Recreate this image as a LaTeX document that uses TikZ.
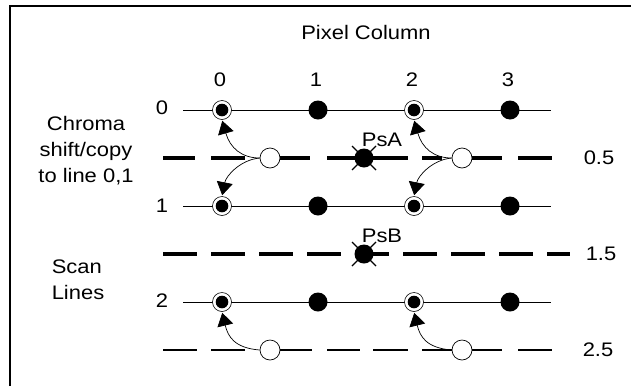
\documentclass[tikz,border=0pt]{standalone}
\usepackage{fontspec}
\setmainfont{Liberation Sans}[FakeStretch=1.12]
\usetikzlibrary{arrows.meta}
\begin{document}
\begin{tikzpicture}[x=1pt,y=-1pt,
  txt/.style={font=\fontsize{19.6}{26}\selectfont, inner sep=0pt},
  fulldot/.style={circle, fill=black, minimum size=19pt, inner sep=0pt},
  ringdot/.style={circle, draw=black, line width=0.6pt, fill=white, minimum size=19pt, inner sep=0pt,
    path picture={\fill[black] (path picture bounding box.center) circle (6.3pt);}},
  opendot/.style={circle, draw=black, line width=0.7pt, fill=white, minimum size=20pt, inner sep=0pt},
  psdot/.style={circle, fill=black, minimum size=19pt, inner sep=0pt},
  psx/.style={line width=1.2pt},
  rowline/.style={line width=0.8pt},
  thickseg/.style={line width=4pt},
  thickdash/.style={line width=4pt, dash pattern=on 34pt off 14pt},
  thinseg/.style={line width=2.6pt},
  arr/.style={line width=0.7pt, -{Triangle[length=13pt,width=16pt]}, shorten >=1pt},
  frame/.style={line width=1.5pt}
]
\useasboundingbox (0,0) rectangle (631,386);
% frame
\coordinate (fbl) at (10,386);
\coordinate (ftl) at (10,6);
\coordinate (ftr) at (631,6);
\draw[frame] (fbl) -- (ftl) -- (ftr);

% solid scan lines
\coordinate (l0s) at (183,110);  \coordinate (l0e) at (551,110);
\coordinate (l1s) at (183,206);  \coordinate (l1e) at (551,206);
\coordinate (l2s) at (183,302);  \coordinate (l2e) at (551,302);
\draw[rowline] (l0s) -- (l0e);
\draw[rowline] (l1s) -- (l1e);
\draw[rowline] (l2s) -- (l2e);

% dashed line 0.5
\foreach \a/\b in {163/195, 211/245, 280/310, 327/408, 422/442, 472/502, 518/552}
  \draw[thickseg] (\a,158) -- (\b,158);
% dashed line 1.5
\coordinate (h1s) at (163,254);  \coordinate (h1e) at (570,254);
\draw[thickdash] (h1s) -- (h1e);
% dashed line 2.5
\foreach \a/\b in {163/197, 211/245, 280/312, 327/360, 373/408, 422/502, 518/552}
  \draw[thinseg] (\a,350) -- (\b,350);

% texts
\node[txt] (title) at (366,32) {Pixel Column};
\node[txt] (c0) at (220,80) {0};
\node[txt] (c1) at (316,80) {1};
\node[txt] (c2) at (412,80) {2};
\node[txt] (c3) at (508,80) {3};
\node[txt] (r0) at (162,108) {0};
\node[txt] (r1) at (162,206) {1};
\node[txt] (r2) at (162,301) {2};
\node[txt] (h05) at (599,158) {0.5};
\node[txt] (h15) at (601,254) {1.5};
\node[txt] (h25) at (598,350) {2.5};
\node[txt, align=center] (chroma) at (86,151) {Chroma\\shift/copy\\to line 0,1};
\node[txt, align=left] (scan) at (78,280) {Scan\\Lines};
\node[txt] (psalbl) at (382,140) {PsA};
\node[txt] (psblbl) at (382,236) {PsB};

% dots
\node[ringdot] (d00) at (222,110) {};
\node[fulldot] (d01) at (318,110) {};
\node[ringdot] (d02) at (414,110) {};
\node[fulldot] (d03) at (510,110) {};
\node[ringdot] (d10) at (222,206) {};
\node[fulldot] (d11) at (318,206) {};
\node[ringdot] (d12) at (414,206) {};
\node[fulldot] (d13) at (510,206) {};
\node[ringdot] (d20) at (222,302) {};
\node[fulldot] (d21) at (318,302) {};
\node[ringdot] (d22) at (414,302) {};
\node[fulldot] (d23) at (510,302) {};

\node[opendot] (o1) at (270,158) {};
\node[opendot] (o2) at (462,158) {};
\node[opendot] (o3) at (270,350) {};
\node[opendot] (o4) at (462,350) {};

\node[psdot] (psa) at (364,158) {};
\node[psdot] (psb) at (364,254) {};
\draw[psx] ([shift={(-12,-12)}]psa.center) -- ([shift={(12,12)}]psa.center);
\draw[psx] ([shift={(-12,12)}]psa.center) -- ([shift={(12,-12)}]psa.center);
\draw[psx] ([shift={(-12,-12)}]psb.center) -- ([shift={(12,12)}]psb.center);
\draw[psx] ([shift={(-12,12)}]psb.center) -- ([shift={(12,-12)}]psb.center);

% arrows
\draw[arr] (o1.west) .. controls +(-18,0) and +(8,28) .. (d00.south);
\draw[arr] (o1.west) .. controls +(-20,2) and +(4,-20) .. (d10.north);
\draw[arr] (o2.west) .. controls +(-18,0) and +(8,28) .. (d02.south);
\draw[arr] (o2.west) .. controls +(-20,2) and +(4,-20) .. (d12.north);
\draw[arr] (o3.west) .. controls +(-25,-2) and +(6,25) .. (d20.south);
\draw[arr] (o4.west) .. controls +(-25,-2) and +(6,25) .. (d22.south);
\end{tikzpicture}
\end{document}
